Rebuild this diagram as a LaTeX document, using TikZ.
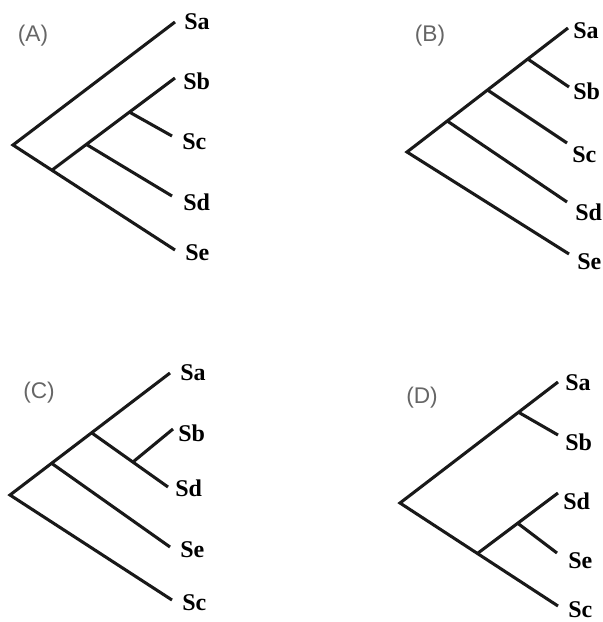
\documentclass[tikz,border=0pt]{standalone}
\usepackage{fontspec}
\setmainfont{Liberation Serif}
\newfontfamily\panelfont{Liberation Sans}
\usetikzlibrary{calc}

\begin{document}
\begin{tikzpicture}[x=0.75pt, y=-0.75pt,
        branch/.style={line width=2.3pt, black!90},
        taxon/.style={anchor=west, inner sep=0pt, font=\bfseries\fontsize{18}{18}\selectfont},
        panel/.style={inner sep=0pt, text=black!60, font=\panelfont\fontsize{17}{17}\selectfont}]
            \useasboundingbox (0,0) rectangle (603,622);

            % (A)
            \node[panel] (pA) at (33,36) {(A)};
            \coordinate (a0) at (13,145);
            \coordinate (aSa) at (175,22);
            \coordinate (aSb) at (175,78);
            \coordinate (aSc) at (172,136);
            \coordinate (aSd) at (172,196);
            \coordinate (aSe) at (175,250);
            \coordinate (a1) at ($(a0)!0.24!(aSe)$);
            \coordinate (a2) at ($(a1)!0.28!(aSb)$);
            \coordinate (a3) at ($(a1)!0.63!(aSb)$);
            \draw [branch] (aSa) -- (a0) -- (aSe);
            \draw [branch] (a1) -- (aSb);
            \draw [branch] (a2) -- (aSd);
            \draw [branch] (a3) -- (aSc);
            \node[taxon] (A-Sa) at (184,22) {Sa};
            \node[taxon] (A-Sb) at (183,81) {Sb};
            \node[taxon] (A-Sc) at (182,142) {Sc};
            \node[taxon] (A-Sd) at (183,202) {Sd};
            \node[taxon] (A-Se) at (185,253) {Se};

            % (B)
            \node[panel] (pB) at (430,36) {(B)};
            \coordinate (b0) at (407,152);
            \coordinate (bSa) at (568,28);
            \coordinate (bSb) at (569,87);
            \coordinate (bSc) at (567,143);
            \coordinate (bSd) at (567,202);
            \coordinate (bSe) at (569,254);
            \coordinate (b1) at ($(b0)!0.25!(bSa)$);
            \coordinate (b2) at ($(b0)!0.5!(bSa)$);
            \coordinate (b3) at ($(b0)!0.75!(bSa)$);
            \draw [branch] (bSa) -- (b0) -- (bSe);
            \draw [branch] (b3) -- (bSb);
            \draw [branch] (b2) -- (bSc);
            \draw [branch] (b1) -- (bSd);
            \node[taxon] (B-Sa) at (573,31) {Sa};
            \node[taxon] (B-Sb) at (573,91) {Sb};
            \node[taxon] (B-Sc) at (572,155) {Sc};
            \node[taxon] (B-Sd) at (575,212) {Sd};
            \node[taxon] (B-Se) at (577,262) {Se};

            % (C)
            \node[panel] (pC) at (39,393) {(C)};
            \coordinate (c0) at (10,495);
            \coordinate (cSa) at (170,373);
            \coordinate (cSb) at (173,429);
            \coordinate (cSd) at (168,487);
            \coordinate (cSe) at (170,547);
            \coordinate (cSc) at (172,600);
            \coordinate (c1) at ($(c0)!0.26!(cSa)$);
            \coordinate (c2) at ($(c0)!0.51!(cSa)$);
            \coordinate (c3) at ($(c2)!0.54!(cSd)$);
            \draw [branch] (cSa) -- (c0) -- (cSc);
            \draw [branch] (c1) -- (cSe);
            \draw [branch] (c2) -- (cSd);
            \draw [branch] (c3) -- (cSb);
            \node[taxon] (C-Sa) at (180,373) {Sa};
            \node[taxon] (C-Sb) at (178,433) {Sb};
            \node[taxon] (C-Sd) at (175,488) {Sd};
            \node[taxon] (C-Se) at (180,550) {Se};
            \node[taxon] (C-Sc) at (182,603) {Sc};

            % (D)
            \node[panel] (pD) at (422,398) {(D)};
            \coordinate (d0) at (400,503);
            \coordinate (dSa) at (558,382);
            \coordinate (dSb) at (558,435);
            \coordinate (dSd) at (558,493);
            \coordinate (dSe) at (557,553);
            \coordinate (dSc) at (558,606);
            \coordinate (d1) at ($(d0)!0.75!(dSa)$);
            \coordinate (d2) at ($(d0)!0.49!(dSc)$);
            \coordinate (d3) at ($(d2)!0.5!(dSd)$);
            \draw [branch] (dSa) -- (d0) -- (dSc);
            \draw [branch] (d1) -- (dSb);
            \draw [branch] (d2) -- (dSd);
            \draw [branch] (d3) -- (dSe);
            \node[taxon] (D-Sa) at (565,383) {Sa};
            \node[taxon] (D-Sb) at (565,442) {Sb};
            \node[taxon] (D-Sd) at (563,501) {Sd};
            \node[taxon] (D-Se) at (568,561) {Se};
            \node[taxon] (D-Sc) at (568,610) {Sc};
        \end{tikzpicture}
\end{document}
